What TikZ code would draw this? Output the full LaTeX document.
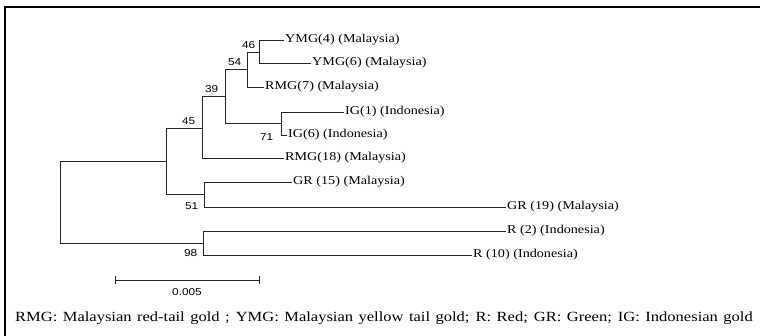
\documentclass[tikz,border=0pt]{standalone}
\usepackage{fontspec}
\usepackage{graphicx}
\usepackage{tikz}
\setmainfont{Liberation Serif}
\newfontfamily\tipfont{Liberation Serif}
\newfontfamily\bootfont{Liberation Sans}
\newcommand\wide[1]{\scalebox{1.18}[1]{#1}}

\tikzset{
  branch/.style={draw=black!85, line width=0.8pt},
  tip/.style={anchor=west, inner sep=1pt, font=\tipfont\fontsize{12}{14}\selectfont},
  boot/.style={inner sep=0.5pt, font=\bootfont\fontsize{10}{12}\selectfont},
}

\begin{document}
\begin{tikzpicture}[x=1pt,y=1pt,yscale=-1,xscale=1]
\useasboundingbox (0,0) rectangle (760,336);

%Frame
\draw [line width=1.6pt] (5,337) -- (5,7) -- (761,7);

%Internal nodes
\coordinate (root) at (60,201);
\coordinate (na) at (166,161);
\coordinate (n45) at (202,128);
\coordinate (n39) at (225,96);
\coordinate (n54) at (247,69);
\coordinate (n46) at (259,52);
\coordinate (n71) at (281,123);
\coordinate (n51) at (204,194);
\coordinate (n98) at (203,243);

% Text Node
\node [tip] (ymg4) at (284,40) {\wide{YMG(4) (Malaysia)}};
\node [tip] (ymg6) at (311,63) {\wide{YMG(6) (Malaysia)}};
\node [tip] (rmg7) at (264,87) {\wide{RMG(7) (Malaysia)}};
\node [tip] (ig1) at (344,112) {\wide{IG(1) (Indonesia)}};
\node [tip] (ig6) at (287,135) {\wide{IG(6) (Indonesia)}};
\node [tip] (rmg18) at (284,158) {\wide{RMG(18) (Malaysia)}};
\node [tip] (gr15) at (292,182) {\wide{GR (15) (Malaysia)}};
\node [tip] (gr19) at (506,207) {\wide{GR (19) (Malaysia)}};
\node [tip] (r2) at (506,231) {\wide{R (2) (Indonesia)}};
\node [tip] (r10) at (472,255) {\wide{R (10) (Indonesia)}};

%Branches
\draw [branch] (root) |- (na);
\draw [branch] (root) |- (n98);
\draw [branch] (na) |- (n45);
\draw [branch] (na) |- (n51);
\draw [branch] (n45) |- (n39);
\draw [branch] (n45) |- (rmg18.west);
\draw [branch] (n39) |- (n54);
\draw [branch] (n39) |- (n71);
\draw [branch] (n54) |- (n46);
\draw [branch] (n54) |- (rmg7.west);
\draw [branch] (n46) |- (ymg4.west);
\draw [branch] (n46) |- (ymg6.west);
\draw [branch] (n71) |- (ig1.west);
\draw [branch] (n71) |- (ig6.west);
\draw [branch] (n51) |- (gr15.west);
\draw [branch] (n51) |- (gr19.west);
\draw [branch] (n98) |- (r2.west);
\draw [branch] (n98) |- (r10.west);

%Bootstrap values
\node [boot, anchor=south east] (b46) at (256,49) {\wide{46}};
\node [boot, anchor=south east] (b54) at (242,66) {\wide{54}};
\node [boot, anchor=south east] (b39) at (219,93) {\wide{39}};
\node [boot, anchor=south east] (b45) at (196,125) {\wide{45}};
\node [boot, anchor=east] (b71) at (274,137) {\wide{71}};
\node [boot, anchor=east] (b51) at (199,206) {\wide{51}};
\node [boot, anchor=east] (b98) at (198,253) {\wide{98}};

%Scale bar
\coordinate (sb1) at (115,280);
\coordinate (sb2) at (259,280);
\draw [branch] (sb1) -- (sb2);
\draw [branch] ([yshift=-4]sb1) -- ([yshift=4]sb1);
\draw [branch] ([yshift=-4]sb2) -- ([yshift=4]sb2);
\node [boot] (sblab) at (187,292) {\wide{0.005}};

% Text Node
\node [anchor=west, inner sep=0pt] (cap) at (15,318) {\tipfont\fontsize{14}{16}\selectfont\scalebox{1.18}[1]{\makebox[625pt][s]{RMG: Malaysian red-tail gold ; YMG: Malaysian yellow tail gold; R: Red; GR: Green; IG: Indonesian gold}}};

\end{tikzpicture}
\end{document}
